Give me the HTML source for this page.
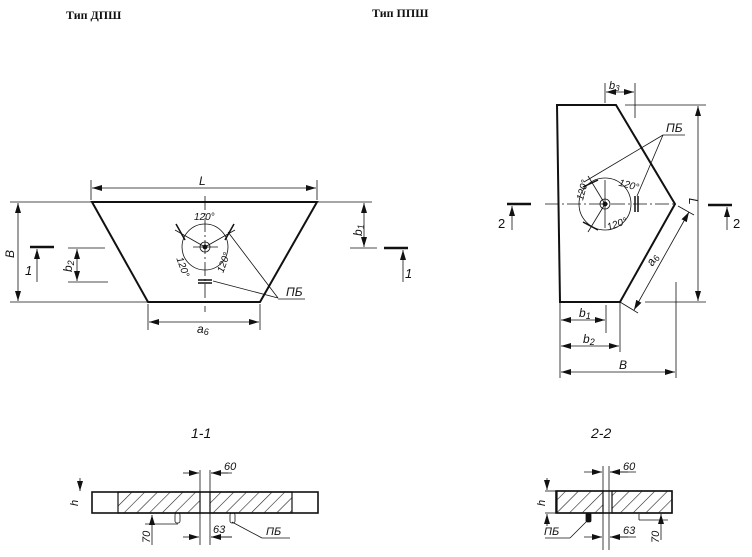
<!DOCTYPE html>
<html><head><meta charset="utf-8"><style>
html,body{margin:0;padding:0;background:#fff}
svg{display:block}
text{font-family:"Liberation Sans",sans-serif;font-style:italic;fill:#111}
.t{font-family:"Liberation Serif",serif;font-style:normal;font-weight:bold;font-size:12px}
</style></head><body>
<svg width="752" height="557" viewBox="0 0 752 557" xmlns="http://www.w3.org/2000/svg">
<defs>
<marker id="a" viewBox="0 0 10 6" refX="10" refY="3" markerWidth="10" markerHeight="6" orient="auto-start-reverse" markerUnits="userSpaceOnUse"><path d="M0,0 L10,3 L0,6 z" fill="#111"/></marker>
<pattern id="h" width="9" height="9" patternUnits="userSpaceOnUse" patternTransform="rotate(45)"><line x1="0" y1="0" x2="0" y2="9" stroke="#222" stroke-width="1.2"/></pattern>
</defs>
<text class="t" x="66" y="19">Тип ДПШ</text>
<text class="t" x="372" y="17">Тип ППШ</text>

<g stroke="#111" fill="none" stroke-width="0.8">
<!-- LEFT PLAN -->
<polygon points="92,202 317,202 260,302 148,302" stroke-width="2"/>
<line x1="10" y1="202" x2="92" y2="202"/><line x1="317" y1="202" x2="372" y2="202"/>
<line x1="10" y1="302" x2="148" y2="302"/>
<line x1="91" y1="180" x2="91" y2="200"/><line x1="317" y1="180" x2="317" y2="200"/>
<line x1="92" y1="188" x2="316" y2="188" marker-start="url(#a)" marker-end="url(#a)"/>
<line x1="18" y1="203" x2="18" y2="301" marker-start="url(#a)" marker-end="url(#a)"/>
<line x1="68" y1="248" x2="105" y2="248"/><line x1="68" y1="282" x2="108" y2="282"/>
<line x1="77" y1="249" x2="77" y2="281" marker-start="url(#a)" marker-end="url(#a)"/>
<line x1="350" y1="248" x2="377" y2="248"/>
<line x1="364" y1="203" x2="364" y2="247" marker-start="url(#a)" marker-end="url(#a)"/>
<line x1="148" y1="304" x2="148" y2="330"/><line x1="260" y1="304" x2="260" y2="330"/>
<line x1="149" y1="322" x2="259" y2="322" marker-start="url(#a)" marker-end="url(#a)"/>
<line x1="30" y1="247" x2="54" y2="247" stroke-width="2.5"/>
<line x1="37" y1="282" x2="37" y2="249" marker-end="url(#a)"/>
<line x1="384" y1="248" x2="408" y2="248" stroke-width="2.5"/>
<line x1="403" y1="282" x2="403" y2="250" marker-end="url(#a)"/>
<line x1="205" y1="196" x2="205" y2="312" stroke-dasharray="14,3,2,3"/>
<line x1="193" y1="247" x2="218" y2="247"/>
<circle cx="205" cy="247" r="23"/>
<circle cx="205" cy="247" r="5"/><circle cx="205" cy="247" r="2" fill="#111"/>
<line x1="205" y1="247" x2="175" y2="230"/><line x1="205" y1="247" x2="235" y2="230"/>
<line x1="176" y1="224" x2="185" y2="240" stroke-width="1.5"/><line x1="234" y1="224" x2="225" y2="240" stroke-width="1.5"/>
<line x1="198" y1="280" x2="212" y2="280" stroke-width="1.5"/><line x1="198" y1="283" x2="212" y2="283" stroke-width="1.5"/>
<line x1="228" y1="232" x2="278" y2="298"/><line x1="213" y1="281" x2="278" y2="298"/>
<line x1="278" y1="299" x2="305" y2="299"/>

<!-- RIGHT PLAN -->
<polygon points="557,105 616,105 675,204 620,302 560,302" stroke-width="2"/>
<line x1="625" y1="105" x2="706" y2="105"/><line x1="645" y1="302" x2="706" y2="302"/>
<line x1="698" y1="106" x2="698" y2="301" marker-start="url(#a)" marker-end="url(#a)"/>
<line x1="605" y1="83" x2="605" y2="103"/><line x1="635" y1="83" x2="635" y2="118"/>
<line x1="606" y1="92" x2="634" y2="92" marker-start="url(#a)" marker-end="url(#a)"/>
<line x1="545" y1="204" x2="675" y2="204" stroke-dasharray="14,3,2,3"/>
<line x1="605" y1="180" x2="605" y2="228"/>
<line x1="678" y1="206" x2="694" y2="215"/><line x1="620" y1="302" x2="638" y2="313"/>
<line x1="689" y1="212" x2="634" y2="310" marker-start="url(#a)" marker-end="url(#a)"/>
<line x1="606" y1="305" x2="606" y2="333"/>
<line x1="561" y1="320" x2="605" y2="320" marker-start="url(#a)" marker-end="url(#a)"/>
<line x1="620" y1="303" x2="620" y2="352"/>
<line x1="561" y1="346" x2="619" y2="346" marker-start="url(#a)" marker-end="url(#a)"/>
<line x1="560" y1="303" x2="560" y2="378"/>
<line x1="676" y1="282" x2="676" y2="378"/>
<line x1="561" y1="372" x2="675" y2="372" marker-start="url(#a)" marker-end="url(#a)"/>
<line x1="507" y1="204" x2="531" y2="204" stroke-width="2.5"/>
<line x1="512" y1="230" x2="512" y2="206" marker-end="url(#a)"/>
<line x1="708" y1="205" x2="732" y2="205" stroke-width="2.5"/>
<line x1="727" y1="230" x2="727" y2="207" marker-end="url(#a)"/>
<circle cx="605" cy="204" r="26"/>
<circle cx="605" cy="204" r="5"/><circle cx="605" cy="204" r="2" fill="#111"/>
<line x1="605" y1="204" x2="588" y2="176"/><line x1="605" y1="204" x2="588" y2="232"/>
<line x1="583" y1="187" x2="598" y2="180" stroke-width="1.5"/>
<line x1="583" y1="222" x2="598" y2="230" stroke-width="1.5"/>
<line x1="635" y1="196" x2="635" y2="212" stroke-width="1.5"/><line x1="638" y1="196" x2="638" y2="212" stroke-width="1.5"/>
<line x1="584" y1="182" x2="663" y2="135"/><line x1="637" y1="196" x2="663" y2="135"/>
<line x1="663" y1="135" x2="685" y2="135"/>

<!-- SECTION 1-1 -->
<rect x="92" y="492" width="226" height="21" stroke-width="1.6"/>
<rect x="118" y="492" width="82" height="21" fill="url(#h)" stroke-width="1.2"/>
<rect x="210" y="492" width="82" height="21" fill="url(#h)" stroke-width="1.2"/>
<line x1="200" y1="470" x2="200" y2="545"/><line x1="210" y1="470" x2="210" y2="545"/>
<line x1="183" y1="473" x2="199" y2="473" marker-end="url(#a)"/><line x1="228" y1="473" x2="211" y2="473" marker-end="url(#a)"/>
<line x1="211" y1="473" x2="232" y2="473"/>
<line x1="183" y1="537" x2="199" y2="537" marker-end="url(#a)"/><line x1="232" y1="537" x2="211" y2="537" marker-end="url(#a)"/>
<line x1="211" y1="537" x2="232" y2="537"/>
<rect x="175" y="513" width="5" height="10" rx="2"/><rect x="230" y="513" width="5" height="10" rx="2"/>
<line x1="145" y1="524" x2="178" y2="524"/>
<line x1="152" y1="545" x2="152" y2="515" marker-end="url(#a)"/>
<line x1="232" y1="522" x2="262" y2="538"/><line x1="262" y1="538" x2="290" y2="538"/>
<line x1="80" y1="478" x2="80" y2="491" marker-end="url(#a)"/>

<!-- SECTION 2-2 -->
<rect x="556" y="491" width="116" height="22" stroke-width="1.6"/>
<rect x="557" y="491" width="46" height="22" fill="url(#h)" stroke-width="1.2"/>
<rect x="612" y="491" width="60" height="22" fill="url(#h)" stroke-width="1.2"/>
<line x1="603" y1="466" x2="603" y2="550"/><line x1="609" y1="466" x2="609" y2="550"/>
<line x1="584" y1="472" x2="602" y2="472" marker-end="url(#a)"/><line x1="628" y1="472" x2="610" y2="472" marker-end="url(#a)"/>
<line x1="610" y1="472" x2="636" y2="472"/>
<line x1="584" y1="537" x2="602" y2="537" marker-end="url(#a)"/><line x1="628" y1="537" x2="610" y2="537" marker-end="url(#a)"/>
<line x1="610" y1="537" x2="636" y2="537"/>
<rect x="586" y="513" width="5" height="9" rx="1.5" fill="#111"/>
<line x1="545" y1="491" x2="556" y2="491"/><line x1="545" y1="513" x2="556" y2="513"/>
<line x1="547" y1="478" x2="547" y2="490" marker-end="url(#a)"/><line x1="547" y1="526" x2="547" y2="514" marker-end="url(#a)"/>
<line x1="588" y1="520" x2="570" y2="538"/><line x1="545" y1="538" x2="570" y2="538"/>
<line x1="639" y1="514" x2="639" y2="520"/><line x1="639" y1="520" x2="668" y2="520"/>
<line x1="661" y1="540" x2="661" y2="514" marker-end="url(#a)"/>
</g>

<g font-size="12">
<text x="199" y="185">L</text>
<text x="14" y="258" transform="rotate(-90 14 258)">B</text>
<text x="72" y="272" transform="rotate(-90 72 272)">b<tspan font-size="9" dy="2">2</tspan></text>
<text x="362" y="236" transform="rotate(-90 362 236)">b<tspan font-size="9" dy="2">1</tspan></text>
<text x="194" y="220" font-size="10">120°</text>
<text x="178" y="268" font-size="10" transform="rotate(70 184 262)">120°</text>
<text x="211" y="272" font-size="10" transform="rotate(-70 218 264)">120°</text>
<text x="286" y="296">ПБ</text>
<text x="197" y="333">a<tspan font-size="9" dy="2">6</tspan></text>
<text x="25" y="275" font-size="13">1</text>
<text x="405" y="278" font-size="13">1</text>

<text x="609" y="89" font-size="11">b<tspan font-size="8" dy="2">3</tspan></text>
<text x="666" y="132">ПБ</text>
<text x="618" y="186" font-size="10" transform="rotate(15 620 186)">120°</text>
<text x="576" y="200" font-size="10" transform="rotate(-75 580 196)">120°</text>
<text x="607" y="229" font-size="10" transform="rotate(-20 612 226)">120°</text>
<text x="689" y="198" transform="rotate(90 689 198)">L</text>
<text x="650" y="266" transform="rotate(-60 652 264)">a<tspan font-size="9" dy="2">6</tspan></text>
<text x="579" y="317">b<tspan font-size="9" dy="2">1</tspan></text>
<text x="583" y="343">b<tspan font-size="9" dy="2">2</tspan></text>
<text x="619" y="369">B</text>
<text x="498" y="228" font-size="13" style="font-style:normal">2</text>
<text x="733" y="228" font-size="13" style="font-style:normal">2</text>

<text x="191" y="438" font-size="14">1-1</text>
<text x="591" y="438" font-size="14">2-2</text>
<text x="224" y="470" font-size="11">60</text>
<text x="213" y="533" font-size="11">63</text>
<text x="266" y="535" font-size="11">ПБ</text>
<text x="78" y="506" font-size="11" transform="rotate(-90 78 506)">h</text>
<text x="150" y="543" font-size="11" transform="rotate(-90 150 543)">70</text>
<text x="623" y="470" font-size="11">60</text>
<text x="623" y="534" font-size="11">63</text>
<text x="544" y="535" font-size="11">ПБ</text>
<text x="545" y="506" font-size="11" transform="rotate(-90 545 506)">h</text>
<text x="659" y="543" font-size="11" transform="rotate(-90 659 543)">70</text>
</g>
</svg>
</body></html>
